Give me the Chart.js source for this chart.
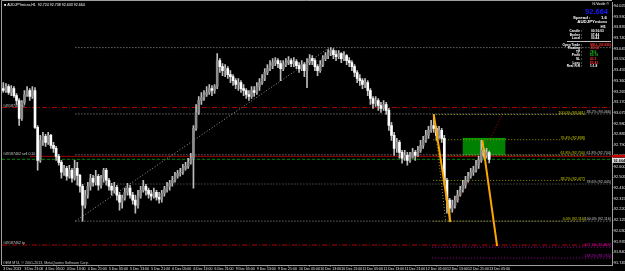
<!DOCTYPE html>
<html><head><meta charset="utf-8">
<script src="https://cdn.jsdelivr.net/npm/chart.js@4.4.1/dist/chart.umd.min.js"></script>
<style>html,body{margin:0;padding:0;background:#000;overflow:hidden}canvas{display:block}</style>
</head><body><canvas id="c" width="625" height="271"></canvas>
<script>
// ---- data (AUDJPYmicro, H1) ----
const timeLabels = ['3 Dec 2013','3 Dec 21:00','4 Dec 05:00','4 Dec 13:00','4 Dec 21:00','5 Dec 05:00','5 Dec 13:00','5 Dec 21:00','6 Dec 05:00','6 Dec 13:00','6 Dec 21:00','9 Dec 05:00','9 Dec 13:00','9 Dec 21:00','10 Dec 05:00','10 Dec 13:00','10 Dec 21:00','11 Dec 05:00','11 Dec 13:00','11 Dec 21:00','12 Dec 05:00','12 Dec 13:00','12 Dec 21:00','13 Dec 05:00'];
const yTicks = [94.025,93.930,93.835,93.740,93.645,93.550,93.455,93.360,93.265,93.170,93.075,92.980,92.885,92.790,92.695,92.600,92.505,92.410,92.315,92.220,92.125,92.030,91.935,91.840,91.745];
const open = [93.291,93.274,93.309,93.256,93.291,93.229,93.185,93.026,93.168,93.238,
93.274,93.221,93.274,92.947,92.655,92.832,92.867,92.814,92.876,92.788,
92.761,92.690,92.637,92.549,92.584,92.514,92.567,92.496,92.584,92.522,
92.425,92.257,92.346,92.425,92.496,92.461,92.514,92.434,92.496,92.567,
92.478,92.425,92.390,92.416,92.346,92.284,92.319,92.372,92.408,92.346,
92.302,92.257,92.337,92.390,92.425,92.390,92.355,92.337,92.372,92.328,
92.310,92.363,92.399,92.425,92.452,92.478,92.514,92.540,92.549,92.584,
92.602,92.637,92.673,92.938,93.079,93.185,93.212,93.238,93.256,93.291,
93.274,93.309,93.539,93.486,93.450,93.468,93.415,93.397,93.362,93.327,
93.344,93.291,93.274,93.238,93.221,93.274,93.256,93.309,93.344,93.380,
93.433,93.468,93.495,93.521,93.539,93.512,93.468,93.503,93.521,93.539,
93.512,93.530,93.495,93.468,93.503,93.450,93.521,93.556,93.539,93.486,
93.450,93.503,93.556,93.583,93.609,93.627,93.592,93.574,93.601,93.556,
93.583,93.539,93.521,93.486,93.433,93.380,93.362,93.327,93.344,93.274,
93.203,93.159,93.185,93.141,93.115,93.150,93.097,92.964,92.876,92.761,
92.814,92.726,92.673,92.699,92.655,92.682,92.726,92.699,92.743,92.788,
92.832,92.876,92.920,92.964,92.938,92.876,92.920,92.850,92.478,92.302,
92.231,92.257,92.302,92.346,92.390,92.434,92.478,92.514,92.549,92.567,
92.611,92.655,92.743,92.699,92.724];
const high = [93.344,93.336,93.327,93.318,93.309,93.247,93.203,93.185,93.274,93.309,
93.291,93.309,93.300,92.964,92.876,92.903,92.885,92.903,92.885,92.814,
92.779,92.708,92.655,92.611,92.602,92.611,92.584,92.655,92.637,92.531,
92.443,92.390,92.461,92.531,92.522,92.567,92.531,92.522,92.584,92.584,
92.496,92.452,92.461,92.434,92.372,92.346,92.408,92.452,92.434,92.372,
92.346,92.390,92.425,92.478,92.443,92.408,92.390,92.408,92.390,92.372,
92.390,92.425,92.461,92.478,92.514,92.549,92.567,92.584,92.620,92.637,
92.673,92.717,92.964,93.150,93.221,93.256,93.274,93.309,93.327,93.318,
93.327,93.601,93.556,93.512,93.503,93.486,93.450,93.415,93.380,93.380,
93.362,93.327,93.291,93.274,93.309,93.309,93.344,93.380,93.415,93.468,
93.503,93.539,93.556,93.565,93.556,93.539,93.539,93.556,93.574,93.556,
93.565,93.548,93.521,93.539,93.521,93.556,93.592,93.583,93.556,93.503,
93.539,93.583,93.609,93.636,93.654,93.645,93.627,93.627,93.609,93.618,
93.592,93.565,93.539,93.503,93.450,93.415,93.380,93.380,93.362,93.291,
93.221,93.221,93.203,93.168,93.185,93.168,93.115,92.991,92.903,92.850,
92.832,92.743,92.743,92.726,92.726,92.761,92.743,92.779,92.832,92.867,
92.920,92.956,93.009,93.061,92.956,92.956,92.938,92.876,92.496,92.319,
92.302,92.337,92.390,92.425,92.478,92.514,92.549,92.584,92.602,92.655,
92.690,92.832,92.761,92.761,92.738];
const low = [93.256,93.256,93.238,93.229,93.212,93.150,92.964,93.009,93.150,93.221,
93.185,93.203,92.938,92.567,92.637,92.788,92.779,92.797,92.761,92.726,
92.655,92.611,92.496,92.522,92.478,92.496,92.461,92.478,92.434,92.372,
92.116,92.231,92.319,92.390,92.425,92.434,92.390,92.408,92.461,92.434,
92.390,92.346,92.363,92.302,92.213,92.231,92.302,92.346,92.319,92.266,
92.187,92.231,92.319,92.372,92.346,92.319,92.302,92.319,92.302,92.275,
92.284,92.337,92.372,92.390,92.425,92.461,92.496,92.514,92.531,92.567,
92.584,92.620,92.408,92.920,93.061,93.150,93.185,93.221,93.238,93.229,
93.247,93.291,93.433,93.406,93.397,93.380,93.344,93.318,93.291,93.274,
93.256,93.229,93.203,93.185,93.203,93.221,93.238,93.274,93.327,93.362,
93.415,93.450,93.468,93.495,93.477,93.362,93.450,93.486,93.503,93.486,
93.486,93.468,93.433,93.450,93.397,93.300,93.503,93.503,93.450,93.406,
93.433,93.486,93.539,93.556,93.583,93.556,93.539,93.556,93.521,93.539,
93.503,93.486,93.450,93.397,93.344,93.318,93.291,93.300,93.229,93.150,
93.115,93.132,93.097,93.079,93.097,93.061,92.920,92.832,92.699,92.726,
92.673,92.629,92.655,92.611,92.637,92.673,92.655,92.690,92.726,92.761,
92.814,92.850,92.903,92.903,92.832,92.850,92.814,92.434,92.187,92.116,
92.196,92.231,92.284,92.337,92.372,92.408,92.461,92.496,92.522,92.549,
92.584,92.637,92.673,92.673,92.633];
const close = [93.274,93.309,93.256,93.291,93.229,93.185,93.026,93.168,93.238,93.274,
93.221,93.274,92.947,92.655,92.832,92.867,92.814,92.876,92.788,92.761,
92.690,92.637,92.549,92.584,92.514,92.567,92.496,92.584,92.522,92.425,
92.257,92.346,92.425,92.496,92.461,92.514,92.434,92.496,92.567,92.478,
92.425,92.390,92.416,92.346,92.284,92.319,92.372,92.408,92.346,92.302,
92.257,92.337,92.390,92.425,92.390,92.355,92.337,92.372,92.328,92.310,
92.363,92.399,92.425,92.452,92.478,92.514,92.540,92.549,92.584,92.602,
92.637,92.673,92.938,93.079,93.185,93.212,93.238,93.256,93.291,93.274,
93.309,93.539,93.486,93.450,93.468,93.415,93.397,93.362,93.327,93.344,
93.291,93.274,93.238,93.221,93.274,93.256,93.309,93.344,93.380,93.433,
93.468,93.495,93.521,93.539,93.512,93.468,93.503,93.521,93.539,93.512,
93.530,93.495,93.468,93.503,93.450,93.521,93.556,93.539,93.486,93.450,
93.503,93.556,93.583,93.609,93.627,93.592,93.574,93.601,93.556,93.583,
93.539,93.521,93.486,93.433,93.380,93.362,93.327,93.344,93.274,93.203,
93.159,93.185,93.141,93.115,93.150,93.097,92.964,92.876,92.761,92.814,
92.726,92.673,92.699,92.655,92.682,92.726,92.699,92.743,92.788,92.832,
92.876,92.920,92.964,92.938,92.876,92.920,92.850,92.478,92.302,92.231,
92.257,92.302,92.346,92.390,92.434,92.478,92.514,92.549,92.567,92.611,
92.655,92.743,92.699,92.724,92.664];

// Fibonacci / order levels (prices)
const grayFibLevels = [93.654, 93.066, 92.704, 92.445, 92.116];
const grayFibLabels = ['0.0% (93.654)', '38.2% (93.066)', '61.8% (92.704)', '78.6% (92.445)', '100.0% (92.116)'];
const yellowFibLevels = [93.061, 92.838, 92.700, 92.477, 92.116];
const yellowFibLabels = ['100.0% (93.061)', '76.4% (92.838)', '61.8% (92.700)', '38.2% (92.477)', '0.0% (92.116)'];
const extLevels = [91.886, 91.789];
const extLabels = ['127.2% (91.859)', '138.2% (91.755)'];
const slPrice = 93.123, entryPrice = 92.690, bidPrice = 92.664, tpPrice = 91.904;
const grayTrend = [[27.3, 92.116], [123.5, 93.654]];
const yellowTrend = [[163, 93.061], [167.5, 92.116]];
const orangeA = [[163, 93.061], [169.3, 92.107]];
const orangeB = [[181.4, 92.832], [187, 91.895]];
const redTrend = [[170, 92.187], [189, 93.061]];
const zoneX = [173.9, 190.2];
const zoneY = [92.699, 92.849];
const hudRows = [['Candle :', '00:16:03', '#ffffff'], ['Broker :', '07:44', '#ffffff'], ['Local :', '03:44', '#ffffff']];
const tradeRows = [['Open Trade :', 'SELL (92.690)', '#ff3030'], ['Floating :', '-$0.02', '#ff3030'], ['TP :', '78.6', '#20c020'], ['Profit :', '$0.79', '#20c020'], ['SL :', '43.3', '#ff3030'], ['Loss :', '$0.43', '#ff3030'], ['Real R:R :', '1:1.8', '#ffffff']];

// ---- build ----
const XMAX = 230.5;
const idx = close.map((_, i) => i);
const bull = idx.map(i => close[i] > open[i]);
const pts = a => a.map(p => ({x: p[0], y: p[1]}));
const hline = (y, x0, color, dash, order, w) => ({type: 'line', data: [{x: x0, y}, {x: XMAX, y}], borderColor: color, borderWidth: w || 1, borderDash: dash, pointRadius: 0, fill: false, order: order || 8});
const datasets = [];
datasets.push({type: 'line', data: [{x: zoneX[0], y: zoneY[1]}, {x: zoneX[1], y: zoneY[1]}], borderColor: '#00a000', borderWidth: 1, backgroundColor: '#008000', fill: {value: zoneY[0]}, pointRadius: 0, order: 9});
grayFibLevels.forEach((v, k) => datasets.push(hline(v, 27.3, k === 3 ? '#707070' : '#9a9a9a', [1, 2])));
yellowFibLevels.forEach(v => datasets.push({...hline(v, 162.8, '#9a9a00', [1, 2]), data: [{x: 162.8, y: v}, {x: 220.3, y: v}]}));
extLevels.forEach(v => datasets.push(hline(v, 162.4, '#9a009a', [1, 2])));
datasets.push(hline(slPrice, -0.5, '#b00000', [5, 2, 1, 2]));
datasets.push(hline(tpPrice, -0.5, '#b00000', [5, 2, 1, 2]));
datasets.push(hline(entryPrice, 10.1, '#a00000', []));
datasets.push(hline(bidPrice, -0.5, '#008a00', [3, 2]));
datasets.push({type: 'line', data: pts(grayTrend), borderColor: '#9a9a9a', borderWidth: 1, borderDash: [1, 2], pointRadius: 0, order: 7});
datasets.push({type: 'line', data: pts(yellowTrend), borderColor: '#9a9a00', borderWidth: 1, borderDash: [1, 2], pointRadius: 0, order: 7});
datasets.push({type: 'line', data: pts(redTrend), borderColor: '#c00000', borderWidth: 1, borderDash: [1, 2], pointRadius: 0, order: 7});
datasets.push({type: 'bar', data: idx.map(i => ({x: i, y: [low[i], high[i]]})), backgroundColor: '#bdbdbd', barThickness: 1, grouped: false, order: 3});
datasets.push({type: 'bar', data: idx.map(i => ({x: i, y: [open[i], close[i]]})), backgroundColor: idx.map(i => bull[i] ? '#8c8c8c' : '#ffffff'), barThickness: 2, minBarLength: 1, grouped: false, order: 2});
datasets.push({type: 'line', data: pts(orangeA), borderColor: '#ffa500', borderWidth: 2, pointRadius: 0, order: 1});
datasets.push({type: 'line', data: pts(orangeB), borderColor: '#ffa500', borderWidth: 2, pointRadius: 0, order: 1});

const F = '"Liberation Sans", Arial, sans-serif';
const bgPlugin = {id: 'bg', beforeDraw(c) { const g = c.ctx; g.save(); g.fillStyle = '#000'; g.fillRect(0, 0, c.width, c.height); g.restore(); }};
const textPlugin = {
  id: 'texts',
  afterDraw(c) {
    const g = c.ctx, ys = c.scales.y, a = c.chartArea;
    const Y = v => ys.getPixelForValue(v);
    g.save();
    // frame
    g.strokeStyle = '#a0a0a0'; g.lineWidth = 1;
    g.beginPath(); g.moveTo(1.5, 265); g.lineTo(1.5, 0.5); g.lineTo(a.right, 0.5); g.stroke();
    g.textBaseline = 'alphabetic';
    g.font = '3.6px ' + F;
    // gray fib labels
    g.textAlign = 'right'; g.fillStyle = '#c8c8c8';
    grayFibLevels.forEach((v, k) => { if (k > 0) g.fillText(grayFibLabels[k], a.right - 1, Y(v) - 0.8); });
    g.fillStyle = '#d0d000';
    yellowFibLevels.forEach((v, k) => g.fillText(yellowFibLabels[k], 585, Y(v) - 0.8));
    g.fillStyle = '#d000d0';
    extLevels.forEach((v, k) => g.fillText(extLabels[k], a.right - 1, Y(v) - 0.8));
    // order labels
    g.textAlign = 'left'; g.fillStyle = '#c8c8c8';
    g.fillText('#49187462 sl', 3, Y(slPrice) - 1);
    g.fillText('#49187462 sell 0.10', 3, Y(entryPrice) - 1);
    g.fillText('#49187462 tp', 3, Y(tpPrice) - 1);
    // title
    const n = close.length - 1;
    g.fillStyle = '#ffffff';
    g.fillText('\u25A0 AUDJPYmicro,H1  ' + open[n].toFixed(3) + ' ' + high[n].toFixed(3) + ' ' + low[n].toFixed(3) + ' ' + close[n].toFixed(3), 4, 6);
    g.fillStyle = '#c8c8c8';
    g.fillText('OEM MT4, \u00A9 2001-2013, MetaQuotes Software Corp.', 3, 263.5);
    // price box
    g.fillStyle = '#d00000'; g.fillRect(a.right, Y(entryPrice) - 1.5, 625 - a.right, 2.5);
    g.fillStyle = '#e8e8e8'; g.fillRect(a.right, Y(bidPrice) - 1.5, 625 - a.right, 5);
    g.fillStyle = '#000'; g.font = 'bold 3.8px ' + F; g.textAlign = 'left';
    g.fillText(close[n].toFixed(3), a.right + 1.5, Y(bidPrice) + 2.8);
    // HUD
    g.textAlign = 'right'; g.fillStyle = '#ffffff'; g.font = '3.5px ' + F;
    g.fillText('hl.Vasile \u00A9', 609, 5);
    g.fillStyle = '#1a1aff'; g.font = 'bold 7.5px ' + F;
    g.fillText(close[n].toFixed(3), 608, 13.5);
    g.fillStyle = '#ffffff'; g.font = 'bold 4.4px ' + F;
    g.textAlign = 'left'; g.fillText('Spread :', 573, 18.5);
    g.textAlign = 'right'; g.fillText('1.6', 607, 18.5);
    g.fillText('AUDJPYmicro', 607, 23);
    g.fillText('H1', 606, 27.5);
    g.font = 'bold 3.2px ' + F;
    hudRows.forEach((r, k) => { g.textAlign = 'right'; g.fillStyle = '#ffffff'; g.fillText(r[0], 582, 32 + k * 3.6); g.textAlign = 'left'; g.fillStyle = r[2]; g.fillText(r[1], 591, 32 + k * 3.6); });
    g.strokeStyle = '#c0c0c0'; g.beginPath(); g.moveTo(567, 41.5); g.lineTo(611, 41.5); g.stroke();
    tradeRows.forEach((r, k) => { g.textAlign = 'right'; g.fillStyle = '#ffffff'; g.fillText(r[0], 582, 45.5 + k * 3.6); g.textAlign = 'left'; g.fillStyle = r[2]; g.fillText(r[1], 590, 45.5 + k * 3.6); });
    g.restore();
  }
};

new Chart(document.getElementById('c'), {
  type: 'bar',
  data: {datasets},
  options: {
    responsive: false, animation: false, devicePixelRatio: 1,
    layout: {padding: {left: 2, top: 2, right: 0, bottom: 0}},
    plugins: {legend: {display: false}, tooltip: {enabled: false}},
    scales: {
      x: {
        type: 'linear', min: -0.5, max: XMAX, offset: false,
        grid: {display: true, drawOnChartArea: false, drawTicks: true, tickLength: 1.5, color: '#a0a0a0'},
        border: {display: true, color: '#a0a0a0'},
        afterBuildTicks: s => { s.ticks = timeLabels.map((_, k) => ({value: k * 8})); },
        afterFit: s => { s.height = 6; },
        ticks: {autoSkip: false, maxRotation: 0, minRotation: 0, align: 'start', padding: 0, color: '#e6e6e6', font: {family: F, size: 3.5}, callback: (v, k) => timeLabels[k]}
      },
      y: {
        position: 'right', min: 91.7272, max: 94.0513,
        grid: {display: true, drawOnChartArea: false, drawTicks: true, tickLength: 1.5, color: '#a0a0a0'},
        border: {display: true, color: '#a0a0a0'},
        afterBuildTicks: s => { s.ticks = yTicks.map(v => ({value: v})); },
        afterFit: s => { s.width = 13; },
        ticks: {padding: 0.5, color: '#e6e6e6', font: {family: F, size: 3.8}, callback: v => Number(v).toFixed(3)}
      }
    }
  },
  plugins: [bgPlugin, textPlugin]
});
</script></body></html>
